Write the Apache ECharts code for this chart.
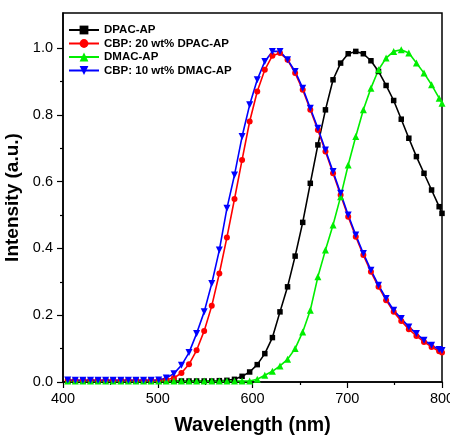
<!DOCTYPE html>
<html>
<head>
<meta charset="utf-8">
<script src="https://cdn.jsdelivr.net/npm/echarts@6/dist/echarts.min.js"></script>
<style>
  html, body { margin: 0; padding: 0; background: #fff; }
  #chart { width: 450px; height: 436px; }
</style>
</head>
<body>
<div id="chart"></div>
<script>
// Emission wavelengths (nm)
const wavelength = [405, 413, 421, 429, 437, 445, 453, 461, 469, 477,
  485, 493, 501, 509, 517, 525, 533, 541, 549, 557,
  565, 573, 581, 589, 597, 605, 613, 621, 629, 637,
  645, 653, 661, 669, 677, 685, 693, 701, 709, 717,
  725, 733, 741, 749, 757, 765, 773, 781, 789, 797, 800];

// Normalised PL intensity of each sample
const dpacAP = [0.003, 0.003, 0.003, 0.003, 0.003, 0.003, 0.003, 0.003, 0.003, 0.003,
  0.003, 0.003, 0.003, 0.003, 0.003, 0.003, 0.003, 0.003, 0.003, 0.003,
  0.004, 0.005, 0.008, 0.017, 0.030, 0.052, 0.085, 0.133, 0.210, 0.285,
  0.377, 0.478, 0.595, 0.710, 0.815, 0.905, 0.955, 0.983, 0.990, 0.983,
  0.962, 0.930, 0.888, 0.843, 0.787, 0.730, 0.675, 0.625, 0.575, 0.525, 0.505];

const cbp20DPAC = [0.005, 0.005, 0.005, 0.005, 0.005, 0.005, 0.005, 0.005, 0.005, 0.005,
  0.005, 0.005, 0.005, 0.007, 0.012, 0.027, 0.053, 0.095, 0.153, 0.228,
  0.325, 0.433, 0.548, 0.665, 0.780, 0.870, 0.935, 0.977, 0.985, 0.965,
  0.925, 0.875, 0.815, 0.755, 0.690, 0.625, 0.560, 0.495, 0.435, 0.380,
  0.330, 0.285, 0.245, 0.210, 0.183, 0.158, 0.138, 0.120, 0.105, 0.092, 0.088];

const dmacAP = [0.003, 0.003, 0.003, 0.003, 0.003, 0.003, 0.003, 0.003, 0.003, 0.003,
  0.003, 0.003, 0.003, 0.003, 0.003, 0.003, 0.003, 0.003, 0.003, 0.003,
  0.003, 0.003, 0.003, 0.003, 0.003, 0.008, 0.020, 0.032, 0.048, 0.068,
  0.100, 0.150, 0.215, 0.315, 0.395, 0.470, 0.555, 0.650, 0.735, 0.815,
  0.880, 0.935, 0.970, 0.990, 0.995, 0.985, 0.955, 0.925, 0.890, 0.850, 0.835];

const cbp10DMAC = [0.006, 0.005, 0.005, 0.005, 0.005, 0.005, 0.005, 0.005, 0.005, 0.005,
  0.005, 0.005, 0.006, 0.012, 0.025, 0.050, 0.088, 0.145, 0.210, 0.295,
  0.395, 0.520, 0.620, 0.735, 0.830, 0.905, 0.960, 0.990, 0.990, 0.965,
  0.930, 0.880, 0.820, 0.760, 0.695, 0.630, 0.565, 0.500, 0.440, 0.385,
  0.335, 0.290, 0.250, 0.215, 0.190, 0.165, 0.145, 0.125, 0.110, 0.097, 0.094];

const seriesNames = ['DPAC-AP', 'CBP: 20 wt% DPAC-AP', 'DMAC-AP', 'CBP: 10 wt% DMAC-AP'];
const xMajorTicks = [400, 500, 600, 700, 800];
const xMinorTicks = [450, 550, 650, 750];
const yMajorTicks = [0, 0.2, 0.4, 0.6, 0.8, 1.0];
const yMinorTicks = [0.1, 0.3, 0.5, 0.7, 0.9];

const pairs = ys => wavelength.map((x, i) => [x, ys[i]]);

const font = 'Liberation Sans, Arial, sans-serif';

function line(name, ys, color, symbol, size, rotate) {
  return {
    name: name,
    type: 'line',
    data: pairs(ys),
    xAxisIndex: 0,
    yAxisIndex: 0,
    symbol: symbol,
    symbolSize: size,
    symbolRotate: rotate || 0,
    showAllSymbol: true,
    lineStyle: { color: color, width: 1.6 },
    itemStyle: { color: color, borderWidth: 0 },
    emphasis: { disabled: true },
    animation: false
  };
}

const chart = echarts.init(document.getElementById('chart'), null, { renderer: 'canvas' });

const baseX = {
  type: 'value', min: 400, max: 800,
  splitLine: { show: false }
};
const baseY = {
  type: 'value', min: 0, max: 1.105,
  splitLine: { show: false }
};

chart.setOption({
  backgroundColor: '#ffffff',
  animation: false,
  grid: {
    left: 63, right: 8, top: 13, bottom: 54,
    containLabel: false, outerBoundsMode: 'none',
    show: true, borderColor: '#000', borderWidth: 1.5, backgroundColor: 'transparent'
  },
  legend: {
    left: 63, top: 19, orient: 'vertical', itemGap: 1.5,
    itemWidth: 30, itemHeight: 11,
    textStyle: { fontFamily: font, fontWeight: 'bold', fontSize: 11.5, lineHeight: 12, color: '#000', padding: [0, 0, 0, 0] },
    data: seriesNames
  },
  xAxis: [
    Object.assign({}, baseX, {
      position: 'bottom',
      name: 'Wavelength (nm)', nameLocation: 'middle', nameGap: 34,
      nameTextStyle: { fontFamily: font, fontWeight: 'bold', fontSize: 19.5, color: '#000' },
      axisLine: { show: true, lineStyle: { color: '#000', width: 1.5 } },
      axisTick: { show: true, length: 6, inside: false, customValues: xMajorTicks, lineStyle: { color: '#000', width: 1.2 } },
      axisLabel: { customValues: xMajorTicks, fontFamily: font, fontSize: 14.5, color: '#000', margin: 9 }
    }),
    Object.assign({}, baseX, {
      position: 'bottom',
      axisLine: { show: false },
      axisTick: { show: true, length: 3, customValues: xMinorTicks, lineStyle: { color: '#000', width: 1.2 } },
      axisLabel: { show: false }
    })
  ],
  yAxis: [
    Object.assign({}, baseY, {
      position: 'left',
      name: 'Intensity (a.u.)', nameLocation: 'middle', nameGap: 39, nameRotate: 90,
      nameTextStyle: { fontFamily: font, fontWeight: 'bold', fontSize: 19, color: '#000' },
      axisLine: { show: true, lineStyle: { color: '#000', width: 1.5 } },
      axisTick: { show: true, length: 6, customValues: yMajorTicks, lineStyle: { color: '#000', width: 1.2 } },
      axisLabel: { customValues: yMajorTicks, fontFamily: font, fontSize: 14.5, color: '#000', margin: 10,
        formatter: v => v.toFixed(1) }
    }),
    Object.assign({}, baseY, {
      position: 'left',
      axisLine: { show: false },
      axisTick: { show: true, length: 3, customValues: yMinorTicks, lineStyle: { color: '#000', width: 1.2 } },
      axisLabel: { show: false }
    })
  ],
  series: [
    line(seriesNames[0], dpacAP, '#000000', 'rect', 5.5),
    line(seriesNames[1], cbp20DPAC, '#ff0000', 'circle', 6),
    line(seriesNames[2], dmacAP, '#00ee00', 'triangle', 7),
    line(seriesNames[3], cbp10DMAC, '#0000ff', 'triangle', 7, 180)
  ]
});
</script>
</body>
</html>
